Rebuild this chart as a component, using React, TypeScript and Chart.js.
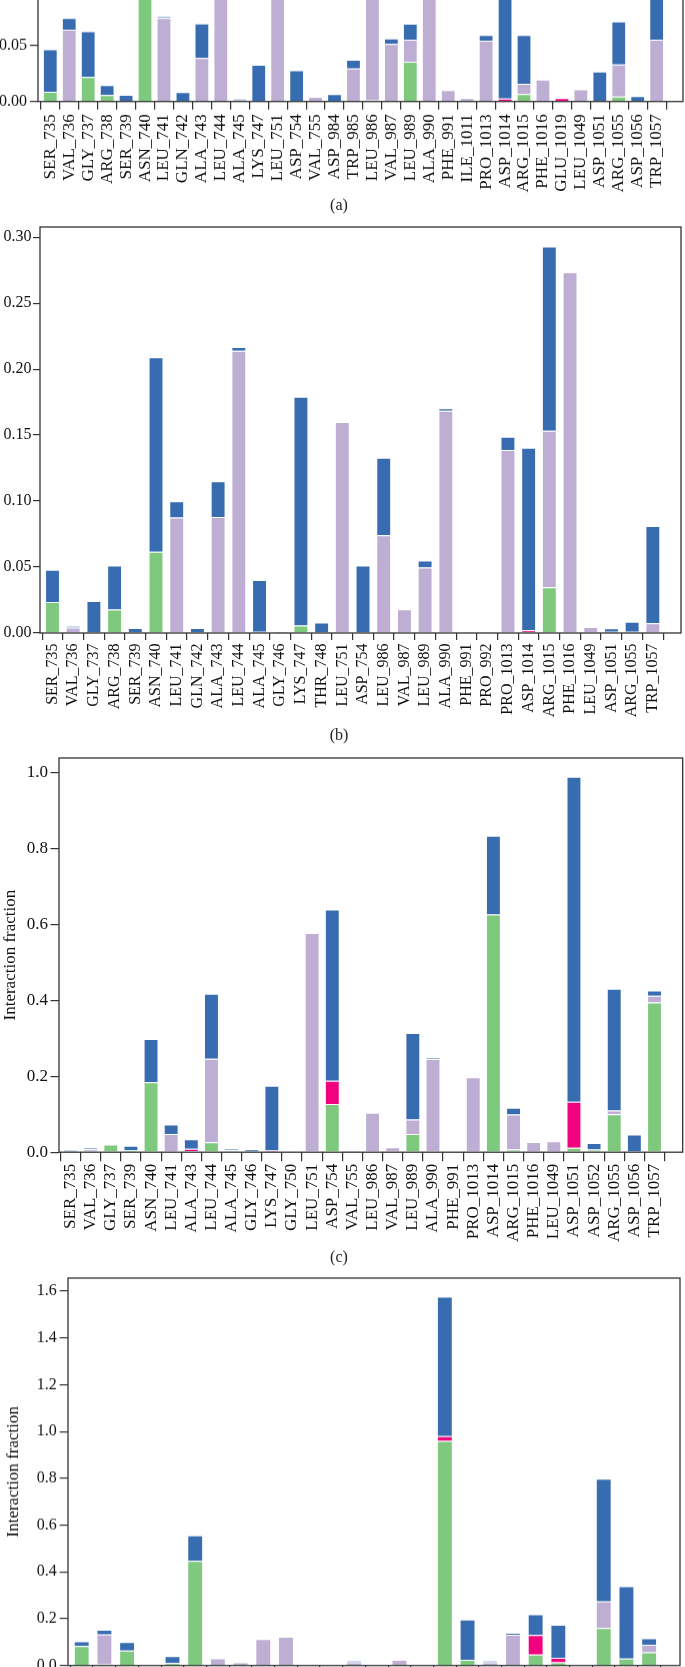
import React, { useEffect, useRef } from "react";
import { Chart, registerables } from "chart.js";

Chart.register(...registerables);

const FONT = "'Liberation Serif', 'Times New Roman', serif";

// ---------- Panel (a) ----------
const labelsA = ["SER_735", "VAL_736", "GLY_737", "ARG_738", "SER_739", "ASN_740", "LEU_741", "GLN_742", "ALA_743", "LEU_744", "ALA_745", "LYS_747", "LEU_751", "ASP_754", "VAL_755", "ASP_984", "TRP_985", "LEU_986", "VAL_987", "LEU_989", "ALA_990", "PHE_991", "ILE_1011", "PRO_1013", "ASP_1014", "ARG_1015", "PHE_1016", "GLU_1019", "LEU_1049", "ASP_1051", "ARG_1055", "ASP_1056", "TRP_1057"];
const hbondA = [0.0087, 0, 0.022, 0.0057, 0, 0.17, 0, 0, 0, 0, 0, 0, 0, 0, 0, 0, 0, 0.0013, 0, 0.0357, 0, 0, 0, 0, 0, 0.0066, 0, 0, 0, 0, 0.0045, 0, 0];
const hydroA = [0, 0.0644, 0, 0, 0, 0, 0.075, 0, 0.039, 0.21, 0.002, 0, 0.19, 0, 0.0042, 0, 0.0297, 0.15, 0.0516, 0.0197, 0.16, 0.0102, 0.003, 0.0545, 0, 0.0093, 0.0198, 0, 0.011, 0, 0.0288, 0, 0.0554];
const ionicA = [0, 0, 0, 0, 0, 0, 0, 0, 0, 0, 0, 0, 0, 0, 0, 0, 0, 0, 0, 0, 0, 0, 0, 0, 0.0027, 0, 0, 0.003, 0, 0, 0, 0, 0];
const waterA = [0.0383, 0.0106, 0.041, 0.009, 0.006, 0, 0.0012, 0.0084, 0.031, 0, 0.001, 0.033, 0, 0.028, 0, 0.0066, 0.0078, 0, 0.005, 0.0144, 0, 0, 0, 0.0052, 0.337, 0.0438, 0, 0, 0, 0.027, 0.0386, 0.0049, 0.07];
const yTicksA = [0, 0.05, 0.1, 0.15, 0.2, 0.25, 0.3, 0.35];

// ---------- Panel (b) ----------
const labelsB = ["SER_735", "VAL_736", "GLY_737", "ARG_738", "SER_739", "ASN_740", "LEU_741", "GLN_742", "ALA_743", "LEU_744", "ALA_745", "GLY_746", "LYS_747", "THR_748", "LEU_751", "ASP_754", "LEU_986", "VAL_987", "LEU_989", "ALA_990", "PHE_991", "PRO_992", "PRO_1013", "ASP_1014", "ARG_1015", "PHE_1016", "LEU_1049", "ASP_1051", "ARG_1055", "TRP_1057"];
const hbondB = [0.0235, 0, 0, 0.0178, 0, 0.0615, 0, 0, 0, 0, 0.001, 0, 0.0056, 0, 0, 0, 0, 0, 0, 0, 0, 0, 0, 0, 0.0347, 0, 0, 0, 0, 0];
const hydroB = [0, 0.0041, 0, 0, 0, 0, 0.0876, 0, 0.088, 0.214, 0, 0, 0, 0, 0.16, 0, 0.0741, 0.018, 0.0496, 0.1684, 0.001, 0.001, 0.1386, 0, 0.1186, 0.2734, 0.0046, 0, 0.001, 0.0074];
const ionicB = [0, 0, 0, 0, 0, 0, 0, 0, 0, 0, 0, 0, 0, 0, 0, 0, 0, 0, 0, 0, 0, 0, 0, 0.002, 0, 0, 0, 0.001, 0, 0];
const waterB = [0.0245, 0.0012, 0.0243, 0.0333, 0.0038, 0.1475, 0.0123, 0.0038, 0.027, 0.0028, 0.0392, 0.001, 0.1734, 0.0079, 0, 0.0511, 0.0587, 0, 0.0053, 0.0019, 0, 0, 0.0101, 0.1384, 0.1396, 0, 0, 0.0026, 0.0076, 0.0736];
const yTicksB = [0, 0.05, 0.1, 0.15, 0.2, 0.25, 0.3];

// ---------- Panel (c) ----------
const labelsC = ["SER_735", "VAL_736", "GLY_737", "SER_739", "ASN_740", "LEU_741", "ALA_743", "LEU_744", "ALA_745", "GLY_746", "LYS_747", "GLY_750", "LEU_751", "ASP_754", "VAL_755", "LEU_986", "VAL_987", "LEU_989", "ALA_990", "PHE_991", "PRO_1013", "ASP_1014", "ARG_1015", "PHE_1016", "LEU_1049", "ASP_1051", "ASP_1052", "ARG_1055", "ASP_1056", "TRP_1057"];
const hbondC = [0, 0, 0.02, 0.006, 0.184, 0, 0, 0.026, 0, 0, 0, 0, 0, 0.127, 0, 0, 0, 0.048, 0, 0, 0, 0.6255, 0.007, 0, 0, 0.012, 0.007, 0.1, 0, 0.394];
const hydroC = [0, 0.008, 0, 0, 0, 0.048, 0.003, 0.22, 0.005, 0.002, 0, 0, 0.577, 0, 0.0045, 0.104, 0.013, 0.038, 0.245, 0, 0.197, 0, 0.092, 0.027, 0.029, 0, 0, 0.01, 0, 0.018];
const ionicC = [0, 0, 0, 0, 0, 0, 0.006, 0, 0, 0, 0.0045, 0, 0, 0.061, 0, 0, 0, 0, 0, 0, 0, 0, 0, 0, 0, 0.121, 0, 0, 0, 0];
const waterC = [0.006, 0.003, 0, 0.011, 0.114, 0.025, 0.025, 0.171, 0.004, 0.006, 0.1705, 0.001, 0, 0.451, 0, 0, 0, 0.228, 0.003, 0, 0, 0.2075, 0.018, 0, 0, 0.855, 0.017, 0.32, 0.0466, 0.0135];
const yTicksC = [0, 0.2, 0.4, 0.6, 0.8, 1.0];

// ---------- Panel (d) ----------
const labelsD = ["SER_735", "VAL_736", "GLY_737", "ARG_738", "SER_739", "ASN_740", "LEU_741", "GLN_742", "ALA_743", "LEU_744", "ALA_745", "LYS_747", "LEU_751", "ASP_754", "VAL_755", "LEU_986", "VAL_987", "LEU_989", "ALA_990", "PRO_1013", "ASP_1014", "ARG_1015", "PHE_1016", "ASP_1051", "ARG_1055", "TRP_1057"];
const hbondD = [0.083, 0.005, 0.064, 0, 0.01, 0.447, 0, 0, 0, 0, 0, 0, 0, 0, 0, 0, 0.96, 0.024, 0, 0, 0.047, 0.014, 0, 0.16, 0.03, 0.056];
const hydroD = [0, 0.128, 0, 0, 0, 0, 0.031, 0.014, 0.113, 0.123, 0, 0, 0.014, 0, 0.024, 0, 0, 0, 0.014, 0.131, 0, 0, 0, 0.114, 0, 0.033];
const ionicD = [0, 0, 0, 0, 0, 0, 0, 0, 0, 0, 0, 0, 0, 0, 0, 0, 0.02, 0, 0, 0, 0.083, 0.019, 0, 0, 0, 0];
const waterD = [0.021, 0.02, 0.036, 0, 0.03, 0.109, 0, 0, 0, 0, 0.004, 0, 0.006, 0, 0, 0, 0.597, 0.173, 0.006, 0.009, 0.089, 0.141, 0, 0.524, 0.309, 0.027];
const yTicksD = [0, 0.2, 0.4, 0.6, 0.8, 1.0, 1.2, 1.4, 1.6];

const COLORS = { hbond: "#7fc97f", hydro: "#beaed4", ionic: "#f0027f", water: "#386cb0" };

const boxPlugin = {
  id: "boxPlugin",
  afterDatasetsDraw(chart: any) {
    const { ctx, chartArea: a } = chart;
    ctx.save();
    ctx.strokeStyle = "#333";
    ctx.lineWidth = 1.3;
    ctx.strokeRect(a.left, a.top, a.right - a.left, a.bottom - a.top);
    ctx.restore();
  },
};

type PanelCfg = {
  labels: string[];
  hbond: number[];
  hydro: number[];
  ionic: number[];
  water: number[];
  yTicks: number[];
  dec: number;
  zeroY: number;
  topY: number;
  yMax: number;
  leftX: number;
  rightX: number;
  xMin: number;
  xMax: number;
  barPct: number;
  yFont: number;
  xFont: number;
  yTickLen: number;
  yPad: number;
  xTickLen: number;
  xPad: number;
  title?: string;
  titlePad?: number;
};

const PAD_TOP = 20;
const X_AXIS_H = 110;

function Panel({ cfg }: { cfg: PanelCfg }) {
  const ref = useRef<HTMLCanvasElement>(null);
  useEffect(() => {
    const mk = (vals: number[], color: string) => ({
      data: vals.map((v, i) => ({ x: i, y: v ? v : null })),
      backgroundColor: color,
      borderColor: "rgba(255,255,255,0.45)",
      borderWidth: 1,
      borderSkipped: "start",
      categoryPercentage: 1,
      barPercentage: cfg.barPct,
    });
    const chart = new Chart(ref.current as HTMLCanvasElement, {
      type: "bar",
      data: {
        datasets: [
          mk(cfg.hbond, COLORS.hbond),
          mk(cfg.hydro, COLORS.hydro),
          mk(cfg.ionic, COLORS.ionic),
          mk(cfg.water, COLORS.water),
        ] as any,
      },
      options: {
        responsive: true,
        maintainAspectRatio: false,
        animation: false,
        layout: { padding: { top: PAD_TOP, right: 685 - cfg.rightX, left: 0, bottom: 0 } },
        plugins: { legend: { display: false }, tooltip: { enabled: false } },
        scales: {
          x: {
            type: "linear",
            stacked: true,
            bounds: "data",
            min: cfg.xMin,
            max: cfg.xMax,
            offset: false,
            afterBuildTicks: (s: any) => {
              s.ticks = cfg.labels.map((_, i) => ({ value: i }));
            },
            afterFit: (s: any) => {
              s.height = X_AXIS_H;
            },
            ticks: {
              autoSkip: false,
              minRotation: 90,
              maxRotation: 90,
              padding: cfg.xPad,
              color: "#111",
              font: { family: FONT, size: cfg.xFont },
              callback: (v: any) => cfg.labels[Math.round(Number(v))] ?? "",
            },
            grid: {
              display: true,
              drawOnChartArea: false,
              drawTicks: true,
              tickLength: cfg.xTickLen,
              color: "#333",
              lineWidth: 1.2,
            },
            border: { display: false },
          } as any,
          y: {
            type: "linear",
            stacked: true,
            bounds: "data",
            min: 0,
            max: cfg.yMax,
            afterBuildTicks: (s: any) => {
              s.ticks = cfg.yTicks.map((v) => ({ value: v }));
            },
            afterFit: (s: any) => {
              s.width = cfg.leftX;
            },
            ticks: {
              padding: cfg.yPad,
              color: "#111",
              font: { family: FONT, size: cfg.yFont },
              callback: (v: any) => Number(v).toFixed(cfg.dec),
            },
            grid: {
              display: true,
              drawOnChartArea: false,
              drawTicks: true,
              tickLength: cfg.yTickLen,
              color: "#333",
              lineWidth: 1.2,
            },
            border: { display: false },
            title: {
              display: !!cfg.title,
              text: cfg.title || "",
              color: "#111",
              font: { family: FONT, size: 17 },
              padding: { top: cfg.titlePad || 0, bottom: 0 },
            },
          } as any,
        },
      },
      plugins: [boxPlugin],
    });
    return () => chart.destroy();
  }, []);
  const top = cfg.topY - PAD_TOP;
  const h = PAD_TOP + (cfg.zeroY - cfg.topY) + X_AXIS_H;
  return (
    <div style={{ position: "absolute", left: 0, top, width: 685, height: h }}>
      <canvas ref={ref} />
    </div>
  );
}

const panelA: PanelCfg = {
  labels: labelsA, hbond: hbondA, hydro: hydroA, ionic: ionicA, water: waterA,
  yTicks: yTicksA, dec: 2, zeroY: 100.7, topY: 100.7 - 0.36 * 1113, yMax: 0.36,
  leftX: 38, rightX: 683, xMin: -0.649, xMax: 33.39, barPct: 0.78,
  yFont: 16, xFont: 17, yTickLen: 8, yPad: 3, xTickLen: 8, xPad: 4.5,
};
const panelB: PanelCfg = {
  labels: labelsB, hbond: hbondB, hydro: hydroB, ionic: ionicB, water: waterB,
  yTicks: yTicksB, dec: 2, zeroY: 632.7, topY: 226.7, yMax: 0.3077,
  leftX: 40, rightX: 681, xMin: -0.604, xMax: 30.36, barPct: 0.72,
  yFont: 16, xFont: 16, yTickLen: 7, yPad: 1.5, xTickLen: 7, xPad: 3.5,
};
const panelC: PanelCfg = {
  labels: labelsC, hbond: hbondC, hydro: hydroC, ionic: ionicC, water: waterC,
  yTicks: yTicksC, dec: 1, zeroY: 1151.7, topY: 757.5, yMax: 1.0374,
  leftX: 59, rightX: 682.7, xMin: -0.571, xMax: 30.4, barPct: 0.74,
  yFont: 17, xFont: 17, yTickLen: 8.5, yPad: 2.5, xTickLen: 9, xPad: 2.5,
  title: "Interaction fraction", titlePad: 0,
};
const panelD: PanelCfg = {
  labels: labelsD, hbond: hbondD, hydro: hydroD, ionic: ionicD, water: waterD,
  yTicks: yTicksD, dec: 1, zeroY: 1665, topY: 1278.3, yMax: 1.656,
  leftX: 68, rightX: 680, xMin: -0.604, xMax: 26.36, barPct: 0.7,
  yFont: 16, xFont: 17, yTickLen: 8.3, yPad: 3, xTickLen: 9, xPad: 2.5,
  title: "Interaction fraction", titlePad: 3,
};

const captionStyle = (y: number): React.CSSProperties => ({
  position: "absolute",
  left: 0,
  width: 678,
  top: y - 10,
  height: 20,
  lineHeight: "20px",
  textAlign: "center",
  fontFamily: FONT,
  fontSize: 16,
  color: "#222",
});

export default function App() {
  return (
    <div
      style={{
        position: "absolute",
        left: 0,
        top: 0,
        width: 685,
        height: 1667,
        overflow: "hidden",
        background: "#fff",
      }}
    >
      <Panel cfg={panelA} />
      <div style={captionStyle(205)}>(a)</div>
      <Panel cfg={panelB} />
      <div style={captionStyle(735)}>(b)</div>
      <Panel cfg={panelC} />
      <div style={captionStyle(1256.7)}>(c)</div>
      <Panel cfg={panelD} />
    </div>
  );
}
